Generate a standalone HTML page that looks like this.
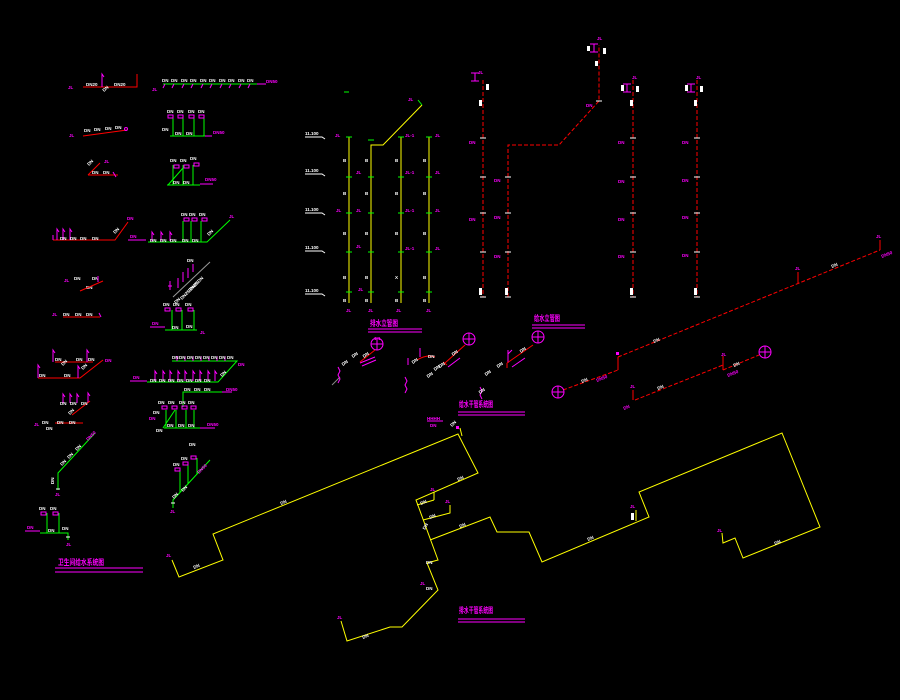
<!DOCTYPE html>
<html><head><meta charset="utf-8"><style>
html,body{margin:0;padding:0;background:#000;}
svg{display:block}
.w{fill:#fff;font-weight:bold;font-size:4.5px;font-family:"Liberation Sans",sans-serif}
.m{fill:#f0f;font-weight:bold;font-size:4.5px;font-family:"Liberation Sans",sans-serif}
.t{fill:#f0f;font-weight:bold;font-size:8px;font-family:"Liberation Sans","Noto Sans CJK SC",sans-serif}
.y{stroke:#ff0;fill:none;stroke-width:1}
.g{stroke:#0f0;fill:none;stroke-width:1}
.r{stroke:#f00;fill:none;stroke-width:1}
.rd{stroke:#f00;fill:none;stroke-width:1;stroke-dasharray:4 2}
.mg{stroke:#f0f;fill:none;stroke-width:1}
.wl{stroke:#fff;fill:none;stroke-width:1}
.wf{fill:#fff}
</style></head><body>
<svg width="900" height="700" viewBox="0 0 900 700" xmlns="http://www.w3.org/2000/svg">
<rect width="900" height="700" fill="#000"/>

<!-- ===== LEFT BLOCK ===== -->
<!-- Row1 left -->
<path class="r" d="M83 87H137V74"/>
<path class="mg" d="M102 87V74l2 3"/>
<text class="w" x="86" y="86">DN20</text><text class="w" x="114" y="86">DN20</text>
<text class="m" x="68" y="89">JL</text>
<text class="w" x="104" y="92" transform="rotate(-40 104 92)">DN</text>
<!-- Row1 right -->
<path class="g" d="M163 84H257"/>
<path class="mg" d="M257 84H266M165 84l-2 4M174 84l-2 4M184 84l-2 4M193 84l-2 4M203 84l-2 4M212 84l-2 4M222 84l-2 4M231 84l-2 4M241 84l-2 4M250 84l-2 4"/>
<text class="w" x="162" y="82">DN</text><text class="w" x="171" y="82">DN</text><text class="w" x="181" y="82">DN</text><text class="w" x="190" y="82">DN</text><text class="w" x="200" y="82">DN</text><text class="w" x="209" y="82">DN</text><text class="w" x="219" y="82">DN</text><text class="w" x="228" y="82">DN</text><text class="w" x="238" y="82">DN</text><text class="w" x="247" y="82">DN</text>
<text class="m" x="266" y="83">DN50</text><text class="m" x="152" y="91">JL</text>
<!-- Row2 left -->
<path class="r" d="M83 136L127 130"/>
<text class="w" x="84" y="132">DN</text><text class="w" x="94" y="131">DN</text><text class="w" x="105" y="130">DN</text><text class="w" x="115" y="129">DN</text>
<circle class="mg" cx="126" cy="129" r="1.5"/>
<text class="m" x="69" y="137">JL</text>
<!-- Row2 right -->
<path class="g" d="M173 117V136M183 117V136M194 117V136M204 117V136M170 136H205"/>
<path class="mg" d="M205 136H212"/>
<rect class="mg" x="168" y="115" width="5" height="3"/><rect class="mg" x="178" y="115" width="5" height="3"/><rect class="mg" x="189" y="115" width="5" height="3"/><rect class="mg" x="199" y="115" width="5" height="3"/>
<text class="w" x="167" y="113">DN</text><text class="w" x="177" y="113">DN</text><text class="w" x="188" y="113">DN</text><text class="w" x="198" y="113">DN</text>
<text class="m" x="213" y="134">DN50</text><text class="w" x="162" y="131">DN</text><text class="w" x="175" y="135">DN</text><text class="w" x="186" y="135">DN</text>
<!-- Row3 left -->
<path class="r" d="M88 175H118M88 175L100 163"/>
<path class="mg" d="M113 172l3 5"/>
<text class="w" x="89" y="166" transform="rotate(-45 89 166)">DN</text><text class="w" x="92" y="174">DN</text><text class="w" x="103" y="174">DN</text>
<text class="m" x="104" y="163">JL</text>
<!-- Row3 right -->
<path class="g" d="M173 165V185M183 165V185M193 165V185M167 185H200M168 185L183 168"/>
<path class="mg" d="M200 184H213"/>
<rect class="mg" x="174" y="165" width="5" height="3"/><rect class="mg" x="184" y="165" width="5" height="3"/><rect class="mg" x="194" y="163" width="5" height="3"/>
<text class="w" x="170" y="162">DN</text><text class="w" x="180" y="162">DN</text><text class="w" x="190" y="160">DN</text>
<text class="w" x="173" y="184">DN</text><text class="w" x="183" y="184">DN</text><text class="m" x="205" y="181">DN50</text>
<!-- Row4 left -->
<path class="r" d="M53 240H115L128 222"/>
<path class="mg" d="M53 235v5M57 240v-11l2 3M63 240v-11l2 3M70 240v-11l2 3"/>
<text class="w" x="60" y="240">DN</text><text class="w" x="70" y="240">DN</text><text class="w" x="80" y="240">DN</text><text class="w" x="92" y="240">DN</text>
<text class="m" x="127" y="220">DN</text><text class="w" x="115" y="234" transform="rotate(-45 115 234)">DN</text>
<!-- Row4 right -->
<path class="g" d="M148 242H207L230 220M183 221V242M191 221V242M201 221V242"/>
<path class="mg" d="M128 240H146M152 241v-9l2 3M161 241v-9l2 3M170 241v-9l2 3"/>
<rect class="mg" x="184" y="218" width="5" height="3"/><rect class="mg" x="192" y="218" width="5" height="3"/><rect class="mg" x="202" y="218" width="5" height="3"/>
<text class="w" x="181" y="216">DN</text><text class="w" x="189" y="216">DN</text><text class="w" x="199" y="216">DN</text>
<text class="w" x="150" y="242">DN</text><text class="w" x="160" y="242">DN</text><text class="w" x="170" y="242">DN</text><text class="w" x="182" y="242">DN</text><text class="w" x="192" y="242">DN</text>
<text class="m" x="130" y="238">DN</text><text class="m" x="229" y="218">JL</text>
<text class="w" x="209" y="236" transform="rotate(-45 209 236)">DN</text>
<!-- Row5 left -->
<text class="w" x="74" y="280">DN</text><text class="w" x="92" y="280">DN</text><text class="w" x="86" y="289">DN</text>
<path class="r" d="M80 291L103 281"/><path class="mg" d="M98 276v6"/>
<text class="m" x="64" y="282">JL</text>
<!-- Row5 right (rotated cluster) -->
<path stroke="#999" fill="none" d="M173 297L210 262"/>
<path class="mg" d="M170 281v9M178 278v10M183 272v10M188 268v10M193 264v8M168 286h4"/>
<text class="w" x="187" y="262">DN</text>
<text class="w" x="182" y="300" transform="rotate(-45 182 300)">DN25 DN25</text>
<text class="w" x="190" y="292" transform="rotate(-45 190 292)">DN25 DN</text>
<text class="w" x="176" y="304" transform="rotate(-45 176 304)">DN</text>
<!-- Row6 left -->
<text class="m" x="52" y="316">JL</text><text class="w" x="63" y="316">DN</text><text class="w" x="75" y="316">DN</text><text class="w" x="86" y="316">DN</text>
<path class="r" d="M63 317H100"/><path class="mg" d="M99 313l2 4"/>
<!-- Row6 right -->
<path class="g" d="M172 310V330M182 310V330M194 310V330M165 330H197"/>
<path class="mg" d="M150 327H165"/>
<text class="m" x="152" y="325">DN</text>
<rect class="mg" x="165" y="308" width="5" height="3"/><rect class="mg" x="176" y="308" width="5" height="3"/><rect class="mg" x="188" y="308" width="5" height="3"/>
<text class="w" x="163" y="306">DN</text><text class="w" x="173" y="306">DN</text><text class="w" x="185" y="306">DN</text>
<text class="w" x="172" y="329">DN</text><text class="w" x="186" y="328">DN</text><text class="m" x="200" y="334">JL</text>
<!-- Row7 left -->
<path class="r" d="M38 378H80L103 360M55 362H93"/>
<path class="mg" d="M53 362v-12l2 3M87 362v-12l2 3M38 378v-13l2 3M78 378v-12l2 3"/>
<text class="w" x="55" y="361">DN</text><text class="w" x="76" y="361">DN</text><text class="w" x="88" y="361">DN</text>
<text class="w" x="39" y="377">DN</text><text class="w" x="64" y="377">DN</text>
<text class="m" x="105" y="362">DN</text>
<text class="w" x="63" y="366" transform="rotate(-45 63 366)">DN</text><text class="w" x="83" y="370" transform="rotate(-45 83 370)">DN</text>
<!-- Row7 right -->
<path class="g" d="M172 361H237L218 382H147"/>
<path class="mg" d="M130 381H147M155 381v-10l2 3M163 381v-10l2 3M170 381v-10l2 3M178 381v-10l2 3M185 381v-10l2 3M193 381v-10l2 3M200 381v-10l2 3M208 381v-10l2 3M215 381v-10l2 3M177 361v-5M185 361v-5M193 361v-5M201 361v-5M209 361v-5M217 361v-5M225 361v-5"/>
<text class="m" x="133" y="379">DN</text>
<text class="w" x="172" y="359">DN</text><text class="w" x="179" y="359">DN</text><text class="w" x="187" y="359">DN</text><text class="w" x="195" y="359">DN</text><text class="w" x="203" y="359">DN</text><text class="w" x="211" y="359">DN</text><text class="w" x="219" y="359">DN</text><text class="w" x="227" y="359">DN</text>
<text class="w" x="150" y="382">DN</text><text class="w" x="159" y="382">DN</text><text class="w" x="168" y="382">DN</text><text class="w" x="177" y="382">DN</text><text class="w" x="186" y="382">DN</text><text class="w" x="195" y="382">DN</text><text class="w" x="204" y="382">DN</text>
<text class="w" x="222" y="377" transform="rotate(-45 222 377)">DN</text><text class="m" x="238" y="366">DN</text>
<!-- Row8 left -->
<path class="mg" d="M63 403v-9l2 3M70 403v-9l2 3M77 403v-9l2 3M88 403v-10l2 3"/>
<path class="r" d="M90 401L72 415M55 423H83"/>
<text class="w" x="60" y="405">DN</text><text class="w" x="70" y="405">DN</text><text class="w" x="81" y="405">DN</text>
<text class="m" x="34" y="426">JL</text><text class="w" x="42" y="424">DN</text><text class="w" x="46" y="430">DN</text>
<text class="w" x="70" y="415" transform="rotate(-45 70 415)">DN</text><text class="w" x="57" y="424">DN</text><text class="w" x="69" y="424">DN</text>
<!-- Row8 right -->
<path class="g" d="M183 407V392H222M166 410V428M176 410V428M186 410V428M194 410V428M164 428H200M163 428L175 410"/>
<path class="mg" d="M200 428H215M222 392H232"/>
<text class="m" x="226" y="391">DN50</text><text class="m" x="207" y="426">DN50</text>
<rect class="mg" x="162" y="406" width="5" height="3"/><rect class="mg" x="172" y="406" width="5" height="3"/><rect class="mg" x="182" y="406" width="5" height="3"/><rect class="mg" x="191" y="406" width="5" height="3"/>
<text class="w" x="158" y="404">DN</text><text class="w" x="168" y="404">DN</text><text class="w" x="179" y="404">DN</text><text class="w" x="188" y="404">DN</text>
<text class="w" x="184" y="391">DN</text><text class="w" x="194" y="391">DN</text><text class="w" x="204" y="391">DN</text>
<text class="w" x="153" y="414">DN</text><text class="w" x="167" y="427">DN</text><text class="w" x="178" y="427">DN</text><text class="w" x="188" y="427">DN</text><text class="w" x="156" y="432">DN</text>
<text class="m" x="149" y="420">DN</text>
<!-- Row9 left -->
<path class="g" d="M58 490V473L95 433"/>
<text class="w" x="62" y="466" transform="rotate(-45 62 466)">DN</text><text class="w" x="69" y="459" transform="rotate(-45 69 459)">DN</text><text class="w" x="77" y="451" transform="rotate(-45 77 451)">DN</text>
<text class="m" x="88" y="441" transform="rotate(-45 88 441)">DN50</text>
<text class="w" x="54" y="484" transform="rotate(-90 54 484)">DN</text><path class="wl" d="M56 489h4"/>
<text class="m" x="55" y="496">JL</text>
<!-- Row9 right -->
<path class="g" d="M173 508V500L210 460M180 470V492M188 464V484M197 458V474"/>
<rect class="mg" x="175" y="468" width="5" height="3"/><rect class="mg" x="183" y="462" width="5" height="3"/><rect class="mg" x="191" y="456" width="5" height="3"/>
<text class="w" x="173" y="466">DN</text><text class="w" x="181" y="460">DN</text><text class="w" x="189" y="446">DN</text>
<text class="m" x="199" y="474" transform="rotate(-45 199 474)">DN50</text>
<text class="w" x="183" y="492" transform="rotate(-45 183 492)">DN</text><text class="w" x="174" y="499" transform="rotate(-45 174 499)">DN</text>
<path class="wl" d="M171 503h4"/><text class="m" x="170" y="513">JL</text>
<!-- Row10 left -->
<path class="g" d="M47 513V533M59 513V533M40 533H68V540"/>
<path class="mg" d="M25 531H40"/><text class="m" x="27" y="529">DN</text>
<rect class="mg" x="41" y="512" width="5" height="3"/><rect class="mg" x="53" y="512" width="5" height="3"/>
<text class="w" x="39" y="510">DN</text><text class="w" x="50" y="510">DN</text>
<text class="w" x="48" y="532">DN</text><text class="w" x="62" y="530">DN</text><path class="wl" d="M66 537h4"/>
<text class="m" x="66" y="546">JL</text>
<!-- Title left -->
<text class="t" x="58" y="565" textLength="46" lengthAdjust="spacingAndGlyphs">卫生间给水系统图</text>
<path class="mg" d="M55 568H143M55 572H143"/>

<!-- ===== YELLOW RISERS ===== -->
<path class="y" d="M349 137V303M371 303V145H383L422 105M401 137V303M429 137V303"/>
<path class="g" d="M418 100l4 5M344 92h5M368 140h6M346 177h6M346 213h6M346 252h6M346 292h6M368 177h6M368 213h6M368 252h6M368 292h6M398 177h6M398 213h6M398 252h6M398 292h6M426 177h6M426 213h6M426 252h6M426 292h6M346 137h6M398 137h6M426 137h6"/>
<text class="w" x="305" y="135">11.100</text><text class="w" x="305" y="172">11.100</text><text class="w" x="305" y="211">11.100</text><text class="w" x="305" y="249">11.100</text><text class="w" x="305" y="292">11.100</text>
<path class="wl" d="M305 137H322l3 2M305 174H322l3 2M305 213H322l3 2M305 251H322l3 2M305 294H322l3 2"/>
<text class="w" x="343" y="162">B</text><text class="w" x="365" y="162">B</text><text class="w" x="395" y="162">B</text><text class="w" x="423" y="162">B</text>
<text class="w" x="343" y="195">B</text><text class="w" x="365" y="195">B</text><text class="w" x="395" y="195">B</text><text class="w" x="423" y="195">B</text>
<text class="w" x="343" y="235">B</text><text class="w" x="365" y="235">B</text><text class="w" x="395" y="235">B</text><text class="w" x="423" y="235">B</text>
<text class="w" x="343" y="279">B</text><text class="w" x="365" y="279">B</text><text class="w" x="395" y="279">X</text><text class="w" x="423" y="279">B</text>
<text class="w" x="343" y="302">B</text><text class="w" x="365" y="302">B</text><text class="w" x="395" y="302">B</text><text class="w" x="423" y="302">B</text>
<text class="m" x="335" y="137">JL</text><text class="m" x="405" y="137">JL-1</text><text class="m" x="435" y="137">JL</text>
<text class="m" x="356" y="174">JL</text><text class="m" x="405" y="174">JL-1</text><text class="m" x="435" y="174">JL</text>
<text class="m" x="336" y="212">JL</text><text class="m" x="356" y="212">JL</text><text class="m" x="405" y="212">JL-1</text><text class="m" x="435" y="212">JL</text>
<text class="m" x="356" y="248">JL</text><text class="m" x="405" y="250">JL-1</text><text class="m" x="435" y="250">JL</text>
<text class="m" x="358" y="291">JL</text>
<text class="m" x="346" y="312">JL</text><text class="m" x="368" y="312">JL</text><text class="m" x="396" y="312">JL</text><text class="m" x="426" y="312">JL</text>
<text class="m" x="408" y="101">JL</text>
<text class="t" x="370" y="326" textLength="28" lengthAdjust="spacingAndGlyphs">排水立管图</text>
<path class="mg" d="M368 329H422M368 332H422"/>
<text class="m" x="374" y="340">1:1</text>

<!-- ===== RED DASHED RISERS ===== -->
<path class="rd" d="M483 80V297M508 297V145H559L599 101V45M633 80V297M697 80V297"/>
<path class="wl" d="M480 138h6M480 177h6M480 213h6M480 252h6M480 297h6M505 177h6M505 213h6M505 252h6M505 297h6M630 138h6M630 177h6M630 213h6M630 252h6M630 297h6M694 138h6M694 177h6M694 213h6M694 252h6M694 297h6M596 101h6"/>
<path class="mg" d="M471 73h8M475 73v8M471 81h8M590 44h8M594 44v8M590 52h8M623 84h8M627 84v8M623 92h8M687 84h8M691 84v8M687 92h8"/>
<rect class="wf" x="486" y="84" width="3" height="6"/><rect class="wf" x="479" y="100" width="3" height="6"/>
<rect class="wf" x="587" y="46" width="3" height="5"/><rect class="wf" x="603" y="48" width="3" height="6"/><rect class="wf" x="595" y="61" width="3" height="5"/>
<rect class="wf" x="621" y="85" width="3" height="6"/><rect class="wf" x="636" y="86" width="3" height="6"/><rect class="wf" x="630" y="100" width="3" height="6"/>
<rect class="wf" x="685" y="85" width="3" height="6"/><rect class="wf" x="700" y="86" width="3" height="6"/><rect class="wf" x="694" y="100" width="3" height="6"/>
<text class="m" x="478" y="74">JL</text><text class="m" x="597" y="40">JL</text><text class="m" x="632" y="79">JL</text><text class="m" x="696" y="79">JL</text>
<text class="m" x="469" y="144">DN</text><text class="m" x="469" y="221">DN</text>
<text class="m" x="494" y="182">DN</text><text class="m" x="494" y="219">DN</text><text class="m" x="494" y="258">DN</text>
<text class="m" x="618" y="144">DN</text><text class="m" x="618" y="183">DN</text><text class="m" x="618" y="221">DN</text><text class="m" x="618" y="258">DN</text>
<text class="m" x="682" y="144">DN</text><text class="m" x="682" y="182">DN</text><text class="m" x="682" y="219">DN</text><text class="m" x="682" y="257">DN</text>
<text class="m" x="586" y="107">DN</text>
<rect class="wf" x="479" y="288" width="3" height="7"/><rect class="wf" x="505" y="288" width="3" height="7"/><rect class="wf" x="630" y="288" width="3" height="7"/><rect class="wf" x="694" y="288" width="3" height="7"/>
<text class="t" x="534" y="321" textLength="26" lengthAdjust="spacingAndGlyphs">给水立管图</text>
<path class="mg" d="M532 325H585M532 328H585"/>

<!-- ===== RED DASHED DIAGONAL (right) ===== -->
<path class="rd" d="M618 357L880 250M563 390L618 370M635 400L723 365M723 370L759 355"/>
<path class="r" d="M880 250V240M798 283V272M618 357V370M633 390V400M723 356V370"/>
<text class="m" x="876" y="238">JL</text>
<text class="m" x="882" y="258" transform="rotate(-22 882 258)">DN50</text>
<text class="m" x="795" y="270">JL</text>
<text class="w" x="832" y="268" transform="rotate(-22 832 268)">DN</text>
<text class="w" x="654" y="343" transform="rotate(-22 654 343)">DN</text>
<rect fill="#f0f" x="616" y="352" width="3" height="3"/>
<text class="m" x="597" y="382" transform="rotate(-22 597 382)">DN50</text>
<text class="w" x="582" y="383" transform="rotate(-22 582 383)">DN</text>
<text class="m" x="630" y="388">JL</text>
<text class="m" x="624" y="410" transform="rotate(-22 624 410)">DN</text>
<text class="w" x="658" y="390" transform="rotate(-22 658 390)">DN</text>
<text class="m" x="721" y="356">JL</text>
<text class="m" x="728" y="377" transform="rotate(-22 728 377)">DN50</text>
<text class="w" x="734" y="367" transform="rotate(-22 734 367)">DN</text>
<!-- circles -->
<g class="mg">
<circle cx="558" cy="392" r="6"/><path d="M552 392h12M558 386v12"/>
<circle cx="765" cy="352" r="6"/><path d="M759 352h12M765 346v12"/>
<circle cx="377" cy="344" r="6"/><path d="M371 344h12M377 338v12"/>
<circle cx="469" cy="339" r="6"/><path d="M463 339h12M469 333v12"/>
<circle cx="538" cy="337" r="6"/><path d="M532 337h12M538 331v12"/>
</g>

<!-- ===== small isometric groups ===== -->
<path stroke="#888" fill="none" d="M332 385L340 377"/>
<path class="mg" d="M338 367l2 4-2 4 2 4-2 4M360 363L375 357M362 366L376 360"/>
<path class="r" d="M360 362L375 350"/>
<text class="w" x="343" y="366" transform="rotate(-35 343 366)">DN</text>
<text class="w" x="353" y="358" transform="rotate(-35 353 358)">DN</text>
<text class="w" x="364" y="358" transform="rotate(-35 364 358)">DN</text>
<path class="mg" d="M408 358v7M420 348v9M448 367L460 358M405 377l2 4-2 4 2 4-2 4"/>
<path class="r" d="M417 360Q427 354 435 357M443 362l4 3M445 363L465 345"/>
<text class="w" x="413" y="364" transform="rotate(-35 413 364)">DN</text>
<text class="w" x="428" y="358">DN</text>
<text class="w" x="453" y="356" transform="rotate(-35 453 356)">DN</text>
<text class="w" x="428" y="378" transform="rotate(-35 428 378)">DN</text>
<text class="w" x="435" y="371" transform="rotate(-35 435 371)">DN</text>
<text class="w" x="440" y="368" transform="rotate(-35 440 368)">DN</text>
<path class="mg" d="M508 350v13M512 350l-4 4M512 367L525 358M480 387l2 4-2 4 2 4"/>
<path class="r" d="M507 363v5M507 363L533 345"/>
<text class="w" x="480" y="394" transform="rotate(-35 480 394)">DN</text>
<text class="w" x="486" y="376" transform="rotate(-35 486 376)">DN</text>
<text class="w" x="498" y="368" transform="rotate(-35 498 368)">DN</text>
<text class="w" x="521" y="353" transform="rotate(-35 521 353)">DN</text>
<text class="t" x="459" y="407" textLength="34" lengthAdjust="spacingAndGlyphs">给水干管系统图</text>
<path class="mg" d="M458 412H525M458 415H525"/>

<!-- ===== YELLOW MAIN ===== -->
<path class="y" d="M172 560L179 577L223 560L213 534L458 434L478 473L416 500L438 560L427 563L438 590L402 627L390 627L347 641L341 621"/>
<path class="y" d="M434 492V500M417 505L434 500M450 505V513L423 520"/>
<path class="y" d="M430 540L490 517L497 532L529 532L542 562L649 517L639 492L782 433L820 527L743 558L735 538L723 543L722 533"/>
<path class="y" d="M636 510V521M460 428l2 8"/>
<text class="w" x="281" y="505" transform="rotate(-22 281 505)">DN</text>
<text class="w" x="194" y="569" transform="rotate(-22 194 569)">DN</text>
<text class="w" x="458" y="481" transform="rotate(-22 458 481)">DN</text>
<text class="w" x="421" y="505" transform="rotate(-22 421 505)">DN</text>
<text class="w" x="430" y="519" transform="rotate(-22 430 519)">DN</text>
<text class="w" x="460" y="528" transform="rotate(-22 460 528)">DN</text>
<text class="w" x="425" y="530" transform="rotate(-60 425 530)">DN</text>
<text class="w" x="426" y="564">DN</text>
<text class="w" x="426" y="590">DN</text>
<text class="w" x="363" y="639" transform="rotate(-22 363 639)">DN</text>
<text class="w" x="588" y="541" transform="rotate(-22 588 541)">DN</text>
<text class="w" x="775" y="545" transform="rotate(-22 775 545)">DN</text>
<text class="m" x="430" y="491">JL</text><text class="m" x="445" y="503">JL</text><text class="m" x="420" y="585">JL</text>
<text class="m" x="337" y="619">JL</text><text class="m" x="166" y="557">JL</text><text class="m" x="630" y="508">JL</text><text class="m" x="717" y="532">JL</text>
<rect class="wf" x="631" y="513" width="3" height="7"/>
<text class="m" x="427" y="420">HHHH</text><path class="mg" d="M427 421H443"/>
<text class="m" x="430" y="427">DN</text>
<text class="w" x="452" y="427" transform="rotate(-45 452 427)">DN</text>
<rect fill="#f0f" x="456" y="426" width="3" height="3"/>
<text class="t" x="459" y="613" textLength="34" lengthAdjust="spacingAndGlyphs">排水干管系统图</text>
<path class="mg" d="M458 619H525M458 622H525"/>
</svg>
</body></html>
